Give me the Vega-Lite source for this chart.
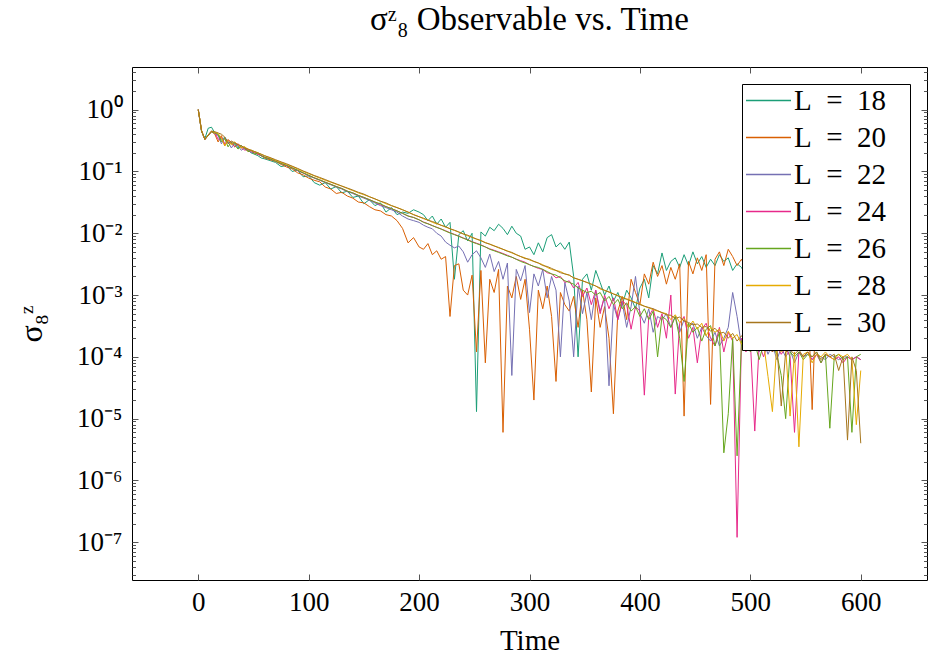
{
"$schema": "https://vega.github.io/schema/vega-lite/v6.json",
"autosize": "none",
"width": 795,
"height": 513,
"padding": {"left": 132, "top": 67, "right": 1, "bottom": 79},
"title": {"text": "σᶻ₈ Observable vs. Time", "font": "Liberation Serif", "fontSize": 33, "fontWeight": "normal", "color": "black", "offset": 21},
"config": {"view": {"stroke": "black", "strokeWidth": 1}},
"data": {"values": [
{"t":0,"18":1,"20":1,"22":1,"24":1,"26":1,"28":1,"30":1},
{"t":3,"18":0.44,"20":0.45,"22":0.45,"24":0.45,"26":0.45,"28":0.46,"30":0.46},
{"t":6,"18":0.34,"20":0.33,"22":0.33,"24":0.33,"26":0.33,"28":0.33,"30":0.33},
{"t":9,"18":0.50,"20":0.38,"22":0.39,"24":0.38,"26":0.38,"28":0.39,"30":0.39},
{"t":12,"18":0.52,"20":0.44,"22":0.45,"24":0.44,"26":0.44,"28":0.45,"30":0.45},
{"t":15,"18":0.42,"20":0.40,"22":0.41,"24":0.43,"26":0.42,"28":0.43,"30":0.44},
{"t":18,"18":0.40,"20":0.30,"22":0.38,"24":0.33,"26":0.40,"28":0.41,"30":0.42},
{"t":21,"18":0.32,"20":0.38,"22":0.28,"24":0.36,"26":0.30,"28":0.35,"30":0.40},
{"t":24,"18":0.36,"20":0.26,"22":0.35,"24":0.28,"26":0.34,"28":0.26,"30":0.36},
{"t":27,"18":0.30,"20":0.33,"22":0.30,"24":0.32,"26":0.25,"28":0.32,"30":0.28},
{"t":30,"18":0.28,"20":0.29,"22":0.24,"24":0.30,"26":0.30,"28":0.27,"30":0.31},
{"t":33,"18":0.29,"20":0.25,"22":0.29,"24":0.25,"26":0.27,"28":0.30,"30":0.29},
{"t":36,"18":0.24,"20":0.28,"22":0.26,"24":0.28,"26":0.23,"28":0.27,"30":0.27},
{"t":39,"18":0.26,"20":0.24,"22":0.22,"24":0.25,"26":0.26,"28":0.24,"30":0.26},
{"t":42,"18":0.23,"20":0.25,"22":0.24,"24":0.22,"26":0.24,"28":0.25,"30":0.24},
{"t":45,"18":0.22,"20":0.21,"22":0.23,"24":0.23,"26":0.21,"28":0.23,"30":0.23},
{"t":48,"18":0.20,"20":0.22,"22":0.20,"24":0.21,"26":0.22,"28":0.22,"30":0.22},
{"t":51,"18":0.19,"20":0.20,"22":0.21,"24":0.20,"26":0.19,"28":0.21,"30":0.21},
{"t":54,"18":0.18,"20":0.19,"22":0.19,"24":0.19,"26":0.20,"28":0.20,"30":0.20},
{"t":57,"18":0.165,"20":0.18,"22":0.18,"24":0.18,"26":0.18,"28":0.19,"30":0.19},
{"t":60,"18":0.16,"20":0.165,"22":0.17,"24":0.17,"26":0.17,"28":0.18,"30":0.18},
{"t":65,"18":0.15,"20":0.155,"22":0.16,"24":0.16,"26":0.16,"28":0.165,"30":0.168},
{"t":70,"18":0.14,"20":0.145,"22":0.146,"24":0.148,"26":0.147,"28":0.152,"30":0.155},
{"t":75,"18":0.12,"20":0.13,"22":0.134,"24":0.136,"26":0.135,"28":0.14,"30":0.143},
{"t":80,"18":0.125,"20":0.118,"22":0.124,"24":0.125,"26":0.126,"28":0.13,"30":0.133},
{"t":85,"18":0.10,"20":0.11,"22":0.113,"24":0.115,"26":0.114,"28":0.12,"30":0.122},
{"t":90,"18":0.105,"20":0.095,"22":0.103,"24":0.104,"26":0.105,"28":0.11,"30":0.112},
{"t":95,"18":0.082,"20":0.088,"22":0.094,"24":0.095,"26":0.095,"28":0.10,"30":0.102},
{"t":100,"18":0.085,"20":0.078,"22":0.085,"24":0.086,"26":0.087,"28":0.092,"30":0.094},
{"t":105,"18":0.066,"20":0.072,"22":0.078,"24":0.079,"26":0.079,"28":0.085,"30":0.086},
{"t":110,"18":0.06,"20":0.068,"22":0.072,"24":0.073,"26":0.073,"28":0.078,"30":0.080},
{"t":115,"18":0.066,"20":0.056,"22":0.066,"24":0.067,"26":0.067,"28":0.072,"30":0.074},
{"t":120,"18":0.052,"20":0.052,"22":0.061,"24":0.062,"26":0.062,"28":0.067,"30":0.068},
{"t":125,"18":0.057,"20":0.044,"22":0.056,"24":0.057,"26":0.057,"28":0.062,"30":0.063},
{"t":130,"18":0.045,"20":0.046,"22":0.052,"24":0.053,"26":0.053,"28":0.058,"30":0.058},
{"t":135,"18":0.048,"20":0.040,"22":0.047,"24":0.048,"26":0.048,"28":0.053,"30":0.054},
{"t":140,"18":0.038,"20":0.037,"22":0.044,"24":0.045,"26":0.045,"28":0.049,"30":0.050},
{"t":145,"18":0.040,"20":0.032,"22":0.040,"24":0.041,"26":0.041,"28":0.045,"30":0.046},
{"t":150,"18":0.030,"20":0.031,"22":0.037,"24":0.038,"26":0.038,"28":0.042,"30":0.043},
{"t":155,"18":0.035,"20":0.027,"22":0.034,"24":0.035,"26":0.035,"28":0.039,"30":0.039},
{"t":160,"18":0.028,"20":0.024,"22":0.031,"24":0.032,"26":0.032,"28":0.036,"30":0.036},
{"t":165,"18":0.031,"20":0.023,"22":0.028,"24":0.029,"26":0.030,"28":0.033,"30":0.033},
{"t":170,"18":0.022,"20":0.020,"22":0.026,"24":0.027,"26":0.027,"28":0.030,"30":0.031},
{"t":175,"18":0.026,"20":0.019,"22":0.024,"24":0.025,"26":0.025,"28":0.028,"30":0.028},
{"t":180,"18":0.020,"20":0.016,"22":0.022,"24":0.023,"26":0.023,"28":0.026,"30":0.026},
{"t":185,"18":0.022,"20":0.012,"22":0.019,"24":0.021,"26":0.021,"28":0.024,"30":0.024},
{"t":190,"18":0.021,"20":0.007,"22":0.017,"24":0.019,"26":0.019,"28":0.022,"30":0.022},
{"t":195,"18":0.024,"20":0.0085,"22":0.016,"24":0.018,"26":0.018,"28":0.020,"30":0.020},
{"t":200,"18":0.022,"20":0.006,"22":0.015,"24":0.0165,"26":0.0165,"28":0.0185,"30":0.0185},
{"t":204,"18":0.020,"20":0.0055,"22":0.0135,"24":0.0152,"26":0.0150,"28":0.0172,"30":0.0175},
{"t":208,"18":0.016,"20":0.0068,"22":0.0125,"24":0.0143,"26":0.0142,"28":0.0165,"30":0.0162},
{"t":212,"18":0.019,"20":0.0045,"22":0.0118,"24":0.0133,"26":0.0133,"28":0.0150,"30":0.0155},
{"t":216,"18":0.014,"20":0.0052,"22":0.0100,"24":0.0125,"26":0.0124,"28":0.0142,"30":0.0146},
{"t":220,"18":0.017,"20":0.0038,"22":0.0090,"24":0.0117,"26":0.0117,"28":0.0135,"30":0.0134},
{"t":224,"18":0.0125,"20":0.0042,"22":0.0072,"24":0.0110,"26":0.0108,"28":0.0126,"30":0.0128},
{"t":228,"18":0.015,"20":0.00045,"22":0.0064,"24":0.0102,"26":0.0101,"28":0.0118,"30":0.0118},
{"t":232,"18":0.0018,"20":0.0030,"22":0.0058,"24":0.0096,"26":0.0095,"28":0.0111,"30":0.0112},
{"t":236,"18":0.0095,"20":0.0032,"22":0.0062,"24":0.0090,"26":0.0089,"28":0.0104,"30":0.0105},
{"t":240,"18":0.011,"20":0.0012,"22":0.0050,"24":0.0084,"26":0.0083,"28":0.0098,"30":0.0097},
{"t":244,"18":0.0075,"20":0.0010,"22":0.0034,"24":0.0079,"26":0.0078,"28":0.0091,"30":0.0093},
{"t":248,"18":0.0100,"20":0.0021,"22":0.0045,"24":0.0073,"26":0.0072,"28":0.0086,"30":0.0086},
{"t":252,"18":0.000013,"20":0.00012,"22":0.0052,"24":0.0069,"26":0.0068,"28":0.0080,"30":0.0081},
{"t":256,"18":0.0105,"20":0.0025,"22":0.0040,"24":0.0065,"26":0.0064,"28":0.0076,"30":0.0076},
{"t":260,"18":0.0090,"20":0.00008,"22":0.0028,"24":0.0060,"26":0.0060,"28":0.0071,"30":0.0070},
{"t":264,"18":0.0125,"20":0.0018,"22":0.0046,"24":0.0056,"26":0.0055,"28":0.0066,"30":0.0067},
{"t":268,"18":0.0110,"20":0.0011,"22":0.0024,"24":0.0053,"26":0.0052,"28":0.0063,"30":0.0062},
{"t":272,"18":0.0140,"20":0.0026,"22":0.0035,"24":0.0050,"26":0.0049,"28":0.0058,"30":0.0059},
{"t":276,"18":0.0120,"20":0.000006,"22":0.0018,"24":0.0047,"26":0.0046,"28":0.0055,"30":0.0055},
{"t":280,"18":0.0095,"20":0.0014,"22":0.0033,"24":0.0044,"26":0.0043,"28":0.0052,"30":0.0051},
{"t":284,"18":0.0130,"20":0.0009,"22":0.00005,"24":0.0041,"26":0.0041,"28":0.0048,"30":0.0049},
{"t":288,"18":0.0100,"20":0.0020,"22":0.0026,"24":0.0038,"26":0.0038,"28":0.0045,"30":0.0045},
{"t":292,"18":0.0090,"20":0.00085,"22":0.0017,"24":0.0036,"26":0.0035,"28":0.0042,"30":0.0042},
{"t":296,"18":0.0055,"20":0.0018,"22":0.0030,"24":0.0034,"26":0.0033,"28":0.0040,"30":0.0039},
{"t":300,"18":0.0060,"20":0.00028,"22":0.00052,"24":0.0031,"26":0.0031,"28":0.0037,"30":0.0038},
{"t":304,"18":0.0045,"20":0.00002,"22":0.0022,"24":0.0029,"26":0.0029,"28":0.0035,"30":0.0035},
{"t":308,"18":0.0070,"20":0.0012,"22":0.0014,"24":0.0027,"26":0.0028,"28":0.0033,"30":0.0033},
{"t":312,"18":0.0050,"20":0.00060,"22":0.0026,"24":0.0026,"26":0.0026,"28":0.0031,"30":0.0030},
{"t":316,"18":0.0085,"20":0.0014,"22":0.00090,"24":0.0023,"26":0.0024,"28":0.0028,"30":0.0029},
{"t":320,"18":0.0095,"20":0.00045,"22":0.0020,"24":0.0022,"26":0.0022,"28":0.0026,"30":0.0027},
{"t":324,"18":0.0060,"20":0.00004,"22":0.0012,"24":0.0019,"26":0.0021,"28":0.0025,"30":0.0025},
{"t":328,"18":0.0070,"20":0.0011,"22":0.00010,"24":0.0020,"26":0.0019,"28":0.0024,"30":0.0023},
{"t":332,"18":0.0055,"20":0.00070,"22":0.0016,"24":0.0016,"26":0.0017,"28":0.0022,"30":0.0022},
{"t":336,"18":0.0072,"20":0.00055,"22":0.00080,"24":0.0017,"26":0.0016,"28":0.0021,"30":0.0021},
{"t":340,"18":0.0020,"20":0.00095,"22":0.00010,"24":0.0013,"26":0.0015,"28":0.0019,"30":0.0019},
{"t":344,"18":0.00010,"20":0.00030,"22":0.0014,"24":0.0016,"26":0.0013,"28":0.0018,"30":0.0018},
{"t":348,"18":0.0018,"20":0.0012,"22":0.00050,"24":0.00095,"26":0.0012,"28":0.0017,"30":0.0017},
{"t":352,"18":0.0022,"20":0.00040,"22":0.0011,"24":0.0013,"26":0.0011,"28":0.0016,"30":0.0016},
{"t":356,"18":0.0012,"20":0.000027,"22":0.00040,"24":0.00070,"26":0.00115,"28":0.0015,"30":0.0015},
{"t":360,"18":0.0025,"20":0.00090,"22":0.0012,"24":0.00120,"26":0.00100,"28":0.0014,"30":0.0014},
{"t":364,"18":0.0016,"20":0.00030,"22":0.00055,"24":0.00050,"26":0.00110,"28":0.00125,"30":0.0013},
{"t":368,"18":0.0010,"20":0.00065,"22":0.00090,"24":0.00100,"26":0.00080,"28":0.00120,"30":0.00118},
{"t":372,"18":0.0014,"20":0.00020,"22":0.000034,"24":0.00060,"26":0.00095,"28":0.00112,"30":0.00112},
{"t":376,"18":0.0008,"20":0.000012,"22":0.00070,"24":0.00090,"26":0.00070,"28":0.00105,"30":0.00104},
{"t":380,"18":0.0011,"20":0.00055,"22":0.00040,"24":0.00040,"26":0.00085,"28":0.00098,"30":0.00097},
{"t":384,"18":0.0007,"20":0.00095,"22":0.00075,"24":0.00080,"26":0.00060,"28":0.00092,"30":0.00091},
{"t":388,"18":0.0012,"20":0.00040,"22":0.00030,"24":0.00070,"26":0.00075,"28":0.00087,"30":0.00085},
{"t":392,"18":0.0009,"20":0.0018,"22":0.00065,"24":0.00028,"26":0.00055,"28":0.00082,"30":0.00080},
{"t":396,"18":0.0006,"20":0.0011,"22":0.0020,"24":0.00065,"26":0.00065,"28":0.00076,"30":0.00075},
{"t":400,"18":0.0013,"20":0.00070,"22":0.00050,"24":0.00055,"26":0.00045,"28":0.00072,"30":0.00070},
{"t":404,"18":0.0018,"20":0.0022,"22":0.00035,"24":0.000024,"26":0.00060,"28":0.00066,"30":0.00066},
{"t":408,"18":0.0009,"20":0.0015,"22":0.00060,"24":0.00045,"26":0.00040,"28":0.00062,"30":0.00063},
{"t":412,"18":0.0030,"20":0.0034,"22":0.00025,"24":0.00060,"26":0.00055,"28":0.00058,"30":0.00060},
{"t":416,"18":0.0022,"20":0.0020,"22":0.00045,"24":0.00030,"26":0.0001,"28":0.00055,"30":0.00056},
{"t":420,"18":0.0048,"20":0.0030,"22":0.00040,"24":0.00050,"26":0.00045,"28":0.00052,"30":0.00052},
{"t":424,"18":0.0025,"20":0.0015,"22":0.00050,"24":0.00020,"26":0.00040,"28":0.00050,"30":0.00048},
{"t":428,"18":0.0035,"20":0.0028,"22":0.00030,"24":0.00100,"26":0.00030,"28":0.00040,"30":0.00047},
{"t":432,"18":0.0040,"20":0.0018,"22":0.00045,"24":0.000025,"26":0.00045,"28":0.00048,"30":0.00042},
{"t":436,"18":0.0028,"20":0.0032,"22":0.00025,"24":0.00035,"26":0.00020,"28":0.00036,"30":0.00044},
{"t":440,"18":0.0045,"20":0.000011,"22":0.00040,"24":0.00045,"26":0.00004,"28":0.00042,"30":0.00038},
{"t":444,"18":0.0030,"20":0.0035,"22":0.00030,"24":0.00020,"26":0.00035,"28":0.00030,"30":0.00036},
{"t":448,"18":0.0050,"20":0.0022,"22":0.00035,"24":0.00030,"26":0.00025,"28":0.00038,"30":0.00033},
{"t":452,"18":0.0032,"20":0.0040,"22":0.00020,"24":0.00008,"26":0.00030,"28":0.00028,"30":0.00034},
{"t":456,"18":0.0042,"20":0.0025,"22":0.00030,"24":0.00028,"26":0.00018,"28":0.00035,"30":0.00030},
{"t":460,"18":0.0028,"20":0.0045,"22":0.00022,"24":0.00035,"26":0.00028,"28":0.00022,"30":0.00031},
{"t":464,"18":0.0038,"20":0.000017,"22":0.00018,"24":0.00020,"26":0.00032,"28":0.00030,"30":0.00026},
{"t":468,"18":0.0030,"20":0.0038,"22":0.00025,"24":0.00015,"26":0.00015,"28":0.00025,"30":0.00029},
{"t":472,"18":0.0045,"20":0.0050,"22":0.00015,"24":0.00030,"26":0.00025,"28":0.00028,"30":0.00024},
{"t":476,"18":0.0035,"20":0.0030,"22":0.00020,"24":0.00012,"26":0.0000028,"28":0.00018,"30":0.00025},
{"t":480,"18":0.0040,"20":0.0055,"22":0.00030,"24":0.00025,"26":0.000012,"28":0.00026,"30":0.00020},
{"t":484,"18":0.0025,"20":0.0042,"22":0.00110,"24":0.00018,"26":0.00020,"28":0.00020,"30":0.00024},
{"t":488,"18":0.0032,"20":0.0030,"22":0.00045,"24":0.00000012,"26":0.0000025,"28":0.00023,"30":0.00018},
{"t":492,"18":0.0028,"20":0.0038,"22":0.00015,"24":0.00020,"26":0.00018,"28":0.00016,"30":0.00022},
{"t":496,"18":0.0020,"20":0.0026,"22":0.00025,"24":0.00012,"26":0.00022,"28":0.00021,"30":0.00017},
{"t":500,"18":0.0024,"20":0.0032,"22":0.00014,"24":0.00018,"26":0.00012,"28":0.00015,"30":0.00020},
{"t":504,"18":0.0018,"20":0.0022,"22":0.00020,"24":0.0000063,"26":0.00017,"28":0.00019,"30":0.00015},
{"t":508,"18":0.0022,"20":0.0028,"22":0.00012,"24":0.00016,"26":0.00009,"28":0.00014,"30":0.00018},
{"t":512,"18":0.0015,"20":0.0018,"22":0.00018,"24":0.00010,"26":0.00016,"28":0.00017,"30":0.00013},
{"t":516,"18":0.0019,"20":0.0025,"22":0.00011,"24":0.00017,"26":0.00013,"28":0.000048,"30":0.00017},
{"t":520,"18":0.0013,"20":0.0016,"22":0.00016,"24":0.00012,"26":0.00015,"28":0.000013,"30":0.00012},
{"t":524,"18":0.0016,"20":0.0021,"22":0.00009,"24":0.00015,"26":0.00011,"28":0.00016,"30":0.00015},
{"t":528,"18":0.0011,"20":0.0013,"22":0.00014,"24":0.00011,"26":0.00005,"28":0.00012,"30":0.000016},
{"t":532,"18":0.0014,"20":0.0019,"22":0.00010,"24":0.00014,"26":0.00001,"28":0.00014,"30":0.00012},
{"t":536,"18":0.0010,"20":0.0012,"22":0.00013,"24":0.00010,"26":0.00012,"28":0.000011,"30":0.00013},
{"t":540,"18":0.0012,"20":0.0017,"22":0.00008,"24":0.000006,"26":0.00010,"28":0.00012,"30":0.00011},
{"t":544,"18":0.0009,"20":0.0011,"22":0.00012,"24":0.00012,"26":0.00012,"28":0.0000035,"30":0.00013},
{"t":548,"18":0.0011,"20":0.0015,"22":0.00010,"24":0.00010,"26":0.00009,"28":0.00011,"30":0.00010},
{"t":552,"18":0.0008,"20":0.0010,"22":0.00011,"24":0.00012,"26":0.00011,"28":0.00012,"30":0.00012},
{"t":556,"18":0.0010,"20":0.000014,"22":0.00009,"24":0.00009,"26":0.00010,"28":0.00008,"30":0.00010},
{"t":560,"18":0.0007,"20":0.0013,"22":0.00011,"24":0.00011,"26":0.00012,"28":0.00011,"30":0.00012},
{"t":564,"18":0.0009,"20":0.0009,"22":0.00010,"24":0.00008,"26":0.00008,"28":0.00010,"30":0.00009},
{"t":568,"18":0.0006,"20":0.0011,"22":0.00009,"24":0.00011,"26":0.00011,"28":0.00012,"30":0.00011},
{"t":572,"18":0.0008,"20":0.0008,"22":0.00011,"24":0.00010,"26":0.000007,"28":0.00010,"30":0.00010},
{"t":576,"18":0.0005,"20":0.0010,"22":0.00010,"24":0.00009,"26":0.00010,"28":0.00009,"30":0.00011},
{"t":580,"18":0.0007,"20":0.0007,"22":0.00009,"24":0.00010,"26":0.00011,"28":0.00011,"30":0.00006},
{"t":584,"18":0.0005,"20":0.0009,"22":0.00010,"24":0.00008,"26":0.00009,"28":0.00010,"30":0.00010},
{"t":588,"18":0.0006,"20":0.0006,"22":0.00010,"24":0.00010,"26":0.00010,"28":0.00011,"30":0.0000045},
{"t":592,"18":0.0004,"20":0.0008,"22":0.00009,"24":0.00009,"26":0.000006,"28":0.00009,"30":0.00010},
{"t":596,"18":0.0005,"20":0.0006,"22":0.00010,"24":0.00010,"26":0.00010,"28":0.000008,"30":0.00006},
{"t":600,"18":0.0004,"20":0.0005,"22":0.00009,"24":0.00009,"26":0.00011,"28":0.00006,"30":0.000004}
]},
"transform": [{"fold": ["18","20","22","24","26","28","30"], "as": ["L","v"]}],
"resolve": {"axis": {"x": "independent", "y": "independent"}},
"layer": [
{
"mark": {"type": "line", "strokeWidth": 1, "clip": true},
"encoding": {
"x": {"field": "t", "type": "quantitative", "scale": {"domain": [-60, 660], "nice": false, "zero": false},
"axis": {"orient": "bottom", "values": [0,100,200,300,400,500,600], "grid": false, "domain": false, "ticks": true, "tickSize": -6, "tickWidth": 1, "tickColor": "#555", "labelFont": "Liberation Serif", "labelFontSize": 27, "labelColor": "black", "labelPadding": 15, "title": "Time", "titleFont": "Liberation Serif", "titleFontSize": 29, "titleFontWeight": "normal", "titleColor": "black", "titlePadding": 11}},
"y": {"field": "v", "type": "quantitative", "scale": {"type": "log", "domain": [2.45e-8, 4.9], "nice": false},
"axis": {"orient": "left", "values": [3e-8,4e-8,5e-8,6e-8,7e-8,8e-8,9e-8,1e-7,2e-7,3e-7,4e-7,5e-7,6e-7,7e-7,8e-7,9e-7,1e-6,2e-6,3e-6,4e-6,5e-6,6e-6,7e-6,8e-6,9e-6,1e-5,2e-5,3e-5,4e-5,5e-5,6e-5,7e-5,8e-5,9e-5,1e-4,2e-4,3e-4,4e-4,5e-4,6e-4,7e-4,8e-4,9e-4,1e-3,2e-3,3e-3,4e-3,5e-3,6e-3,7e-3,8e-3,9e-3,1e-2,2e-2,3e-2,4e-2,5e-2,6e-2,7e-2,8e-2,9e-2,0.1,0.2,0.3,0.4,0.5,0.6,0.7,0.8,0.9,1,2,3,4],
"labelExpr": "datum.value===1?'10⁰':datum.value===0.1?'10⁻¹':datum.value===0.01?'10⁻²':datum.value===0.001?'10⁻³':datum.value===0.0001?'10⁻⁴':datum.value===0.00001?'10⁻⁵':datum.value===0.000001?'10⁻⁶':datum.value===1e-7?'10⁻⁷':''",
"tickSize": {"condition": {"test": "indexof([1,0.1,0.01,0.001,0.0001,0.00001,0.000001,1e-7], datum.value) >= 0", "value": -6}, "value": -3.5},
"tickWidth": 1, "tickColor": "#555", "grid": false, "domain": false, "labelFont": "Liberation Serif", "labelFontSize": 27, "labelColor": "black", "labelPadding": 16, "labelFlush": false, "labelOverlap": false,
"title": "σ₈ᶻ", "titleFont": "Liberation Serif", "titleFontSize": 32, "titleFontWeight": "normal", "titleColor": "black", "titlePadding": 28}},
"color": {"field": "L", "type": "nominal", "sort": ["18","20","22","24","26","28","30"],
"scale": {"domain": ["18","20","22","24","26","28","30"], "range": ["#1b9e77","#d95f02","#7570b3","#e7298a","#66a61e","#e6ab02","#a6761d"]},
"legend": {"orient": "top-right", "offset": 17, "title": "\u2800", "titleOrient": "bottom", "titleFontSize": 10, "titlePadding": 0, "labelExpr": "'L\u2002=\u2002' + datum.label + '\u2800'", "labelFont": "Liberation Serif", "labelFontSize": 29, "labelColor": "black", "symbolType": "M-2,0H2", "symbolSize": 506, "symbolStrokeWidth": 1.5, "symbolOffset": 10, "strokeColor": "black", "fillColor": "white", "padding": 2, "rowPadding": 7, "labelOffset": 11}}
}
},
{
"mark": {"type": "line", "opacity": 0},
"encoding": {
"x": {"field": "t", "type": "quantitative",
"axis": {"orient": "top", "values": [0,100,200,300,400,500,600], "grid": false, "domain": false, "tickSize": -6, "tickWidth": 1, "tickColor": "#555", "labels": false, "title": null}},
"y": {"field": "v", "type": "quantitative",
"axis": {"orient": "right", "values": [3e-8,4e-8,5e-8,6e-8,7e-8,8e-8,9e-8,1e-7,2e-7,3e-7,4e-7,5e-7,6e-7,7e-7,8e-7,9e-7,1e-6,2e-6,3e-6,4e-6,5e-6,6e-6,7e-6,8e-6,9e-6,1e-5,2e-5,3e-5,4e-5,5e-5,6e-5,7e-5,8e-5,9e-5,1e-4,2e-4,3e-4,4e-4,5e-4,6e-4,7e-4,8e-4,9e-4,1e-3,2e-3,3e-3,4e-3,5e-3,6e-3,7e-3,8e-3,9e-3,1e-2,2e-2,3e-2,4e-2,5e-2,6e-2,7e-2,8e-2,9e-2,0.1,0.2,0.3,0.4,0.5,0.6,0.7,0.8,0.9,1,2,3,4],
"tickSize": {"condition": {"test": "indexof([1,0.1,0.01,0.001,0.0001,0.00001,0.000001,1e-7], datum.value) >= 0", "value": -6}, "value": -3.5},
"grid": false, "domain": false, "tickWidth": 1, "tickColor": "#555", "labels": false, "title": null}}
}
}
]
}
